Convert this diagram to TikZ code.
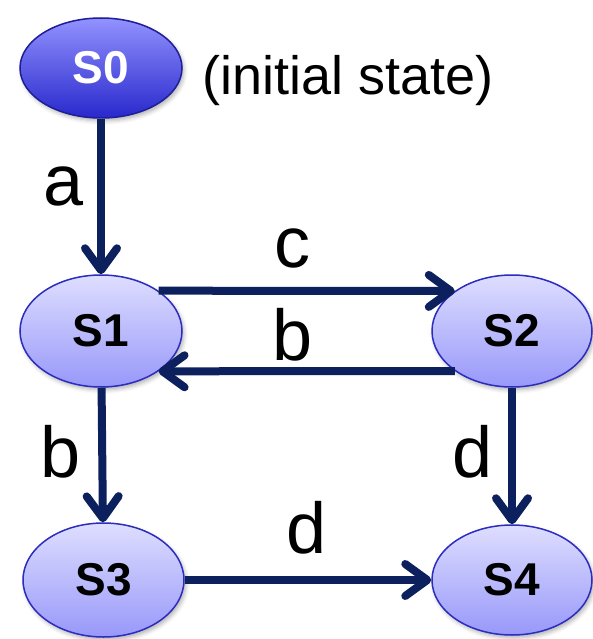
\documentclass[tikz,border=0pt]{standalone}
\usepackage{fontspec}
\setmainfont{Liberation Sans}
\usetikzlibrary{arrows.meta,shapes.geometric,shadows.blur}
\definecolor{navy}{RGB}{12,32,94}
\definecolor{stopL}{RGB}{222,222,255}
\definecolor{sbotL}{RGB}{152,152,250}
\definecolor{sborder}{RGB}{44,44,190}
\definecolor{stopD}{RGB}{146,146,255}
\definecolor{sbotD}{RGB}{40,40,205}
\definecolor{sborderD}{RGB}{30,30,150}
\begin{document}
\begin{tikzpicture}[x=1pt,y=-1pt,
  statebox/.style={ellipse, minimum width=162pt, minimum height=112pt, inner sep=0pt,
    draw=sborder, line width=1.5pt, top color=stopL, bottom color=sbotL,
    blur shadow={shadow xshift=2pt, shadow yshift=-3pt, shadow blur radius=4pt, shadow opacity=30},
    font=\fontsize{46}{50}\selectfont\bfseries, text=black},
  initbox/.style={statebox, minimum height=100pt, draw=sborderD, top color=stopD, bottom color=sbotD, text=white},
  conn/.style={draw=navy, line width=8pt,
    -{Straight Barb[length=22pt,width=32pt,line cap=round,line join=round]}},
  lbl/.style={anchor=base, inner sep=0pt, font=\fontsize{72}{76}\selectfont},
]
\useasboundingbox (0,0) rectangle (592,639);
\node[initbox] (S0) at (101,68) {S0};
\node[statebox] (S1) at (101,331) {S1};
\node[statebox, minimum width=160pt] (S2) at (512,331) {S2};
\node[statebox, minimum width=161pt, minimum height=114pt] (S3) at (103.5,580) {S3};
\node[statebox, minimum width=160pt, minimum height=110pt] (S4) at (512,580) {S4};
\node[anchor=base west, inner sep=0pt, font=\fontsize{54}{58}\selectfont] (init) at (202,95) {(initial state)};
\draw[conn] (S0) -- (S1);
\draw[conn] (S1.35) -- (S2.145);
\draw[conn] (S2.215) -- (S1.325);
\draw[conn] (S1) -- (S3);
\draw[conn] (S2) -- (S4);
\draw[conn] (S3) -- (S4);
\node[lbl] (la) at (64,205) {a};
\node[lbl] (lc) at (292,267) {c};
\node[lbl] (lb1) at (293,360) {b};
\node[lbl] (lb2) at (61,477) {b};
\node[lbl] (ld1) at (473,477) {d};
\node[lbl] (ld2) at (307,553) {d};
\end{tikzpicture}
\end{document}
